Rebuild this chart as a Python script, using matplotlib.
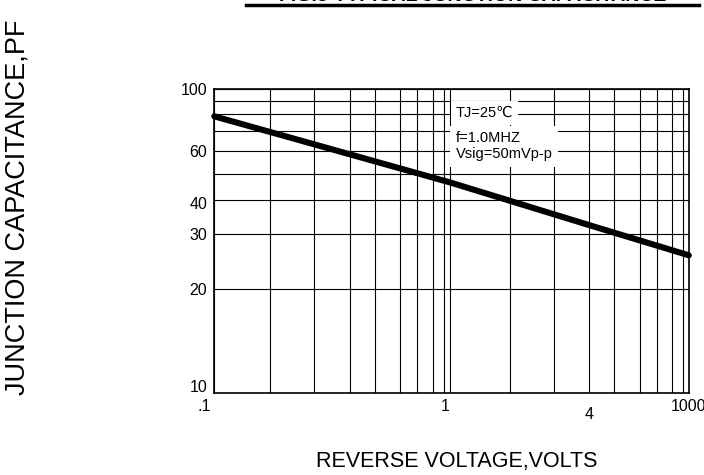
import numpy as np
import matplotlib
matplotlib.use("Agg")
import matplotlib.pyplot as plt
from matplotlib.transforms import ScaledTranslation
from matplotlib.lines import Line2D

plt.rcParams['font.family'] = ['Liberation Sans', 'DejaVu Sans']

# ---- data ----
voltage = [0.1, 1.0, 4.0, 10.0]          # reverse voltage, V
capacitance = [78.4, 46.6, 32.4, 25.7]   # junction capacitance, pF

# ---- axis grids of the (hand drawn) log paper ----
x_grid_vals = [0.1, 0.2, 0.3, 0.4, 0.5, 0.6, 0.7, 0.8, 0.9, 1,
               2, 3, 4, 5, 6, 7, 8, 9, 10]
x_grid_pos = [0, 0.1180, 0.2107, 0.2854, 0.3387, 0.3920, 0.4278, 0.4615,
              0.4847, 0.4967, 0.6225, 0.7149, 0.7901, 0.8428, 0.8972,
              0.9324, 0.9652, 0.9884, 1.0]
y_grid_vals = [10, 20, 30, 40, 50, 60, 70, 80, 90, 100]
y_grid_pos = [0, 0.3421, 0.5230, 0.6359, 0.7204, 0.7980, 0.8628, 0.9197,
              0.9615, 1.0]

x_labels = {0.1: '.1', 1: '1', 4: '4', 10: '1000'}
y_labels = {10: '10', 20: '20', 30: '30', 40: '40', 60: '60', 100: '100'}


def paper_scale(vals, pos):
    lv = np.log10(np.asarray(vals, float))
    p = np.asarray(pos, float)

    def fwd(v):
        v = np.asarray(v, float)
        with np.errstate(divide='ignore', invalid='ignore'):
            lvv = np.log10(np.clip(v, 1e-12, None))
        return np.interp(lvv, lv, p)

    def inv(u):
        u = np.asarray(u, float)
        return 10 ** np.interp(u, p, lv)
    return fwd, inv


fig = plt.figure(figsize=(7.04, 4.75), dpi=100)
ax = fig.add_axes([214.3 / 704, 1 - 393.3 / 475, 474.5 / 704, 304 / 475])

ax.set_xscale('function', functions=paper_scale(x_grid_vals, x_grid_pos))
ax.set_yscale('function', functions=paper_scale(y_grid_vals, y_grid_pos))
ax.set_xlim(0.1, 10)
ax.set_ylim(10, 100)

ax.set_xticks(x_grid_vals)
ax.set_xticklabels([x_labels.get(v, '') for v in x_grid_vals])
ax.set_yticks(y_grid_vals)
ax.set_yticklabels([y_labels.get(v, '') for v in y_grid_vals])
ax.minorticks_off()
ax.tick_params(length=0, labelsize=11.5, colors='black')
ax.tick_params(axis='x', pad=4)
ax.tick_params(axis='y', pad=5)
ax.grid(True, color='black', linewidth=0.8)
ax.set_axisbelow(True)
for s in ax.spines.values():
    s.set_linewidth(1.2)

# small label offsets as in the reference
x_off = {'.1': (-10, 0), '1': (-5, 0), '4': (0, -8)}
for lab in ax.get_xticklabels():
    t = lab.get_text()
    if t in x_off:
        dx, dy = x_off[t]
        lab.set_transform(lab.get_transform() +
                          ScaledTranslation(dx / 100, dy / 100, fig.dpi_scale_trans))
y_off = {'10': (0, 7.5), '40': (0, -3)}
for lab in ax.get_yticklabels():
    t = lab.get_text()
    if t in y_off:
        dx, dy = y_off[t]
        lab.set_transform(lab.get_transform() +
                          ScaledTranslation(dx / 100, dy / 100, fig.dpi_scale_trans))

ax.plot(voltage, capacitance, color='black', linewidth=4.4,
        solid_capstyle='round', clip_on=False, zorder=5)

ax.text(0.5094, 0.922, 'TJ=25℃', transform=ax.transAxes, fontsize=10.5,
        ha='left', va='center', zorder=4,
        bbox=dict(facecolor='white', edgecolor='none', pad=3.5))
ax.text(0.5094, 0.813, 'f=1.0MHZ\nVsig=50mVp-p', transform=ax.transAxes,
        fontsize=10.5, ha='left', va='center', linespacing=1.15, zorder=4,
        bbox=dict(facecolor='white', edgecolor='none', pad=4))

fig.text(18 / 704, 1 - 207 / 475, 'JUNCTION CAPACITANCE,PF', rotation=90,
         ha='center', va='center', fontsize=19.5)
fig.text(457 / 704, 1 - 461 / 475, 'REVERSE VOLTAGE,VOLTS',
         ha='center', va='center', fontsize=15.5)

# cut-off title at the top
fig.text(473 / 704, 1 - 0.8 / 475, 'FIG.3-TYPICAL JUNCTION CAPACITANCE',
         ha='center', va='baseline', fontsize=14, fontweight='bold')
fig.add_artist(Line2D([246 / 704, 699 / 704], [1 - 5 / 475, 1 - 5 / 475],
                      transform=fig.transFigure, color='black', linewidth=2.5))

fig.savefig('out.png', dpi=100)
